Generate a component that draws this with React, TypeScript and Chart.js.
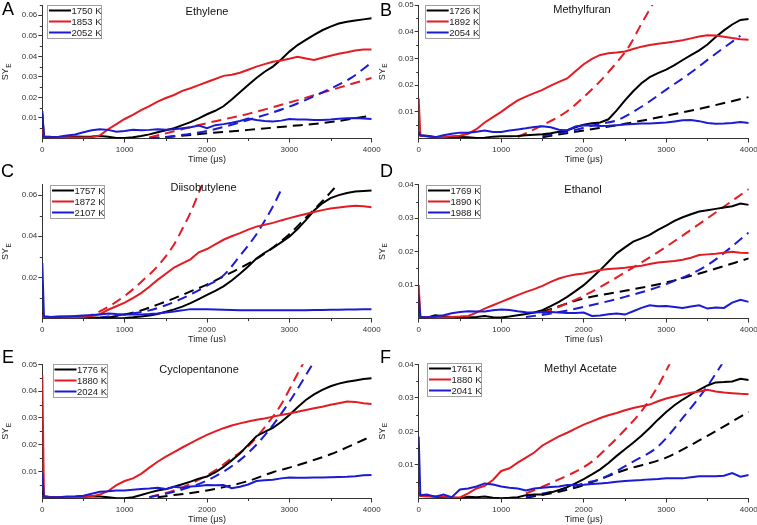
import React, { useEffect, useRef } from "react";
import { Chart, registerables } from "chart.js";

Chart.register(...registerables);

// ---------- shared axes ----------
const TIME = [0, 20,
  100, 200, 300, 400, 500, 600, 700, 800, 900, 1000,
  1100, 1200, 1300, 1400, 1500, 1600, 1700, 1800, 1900, 2000,
  2100, 2200, 2300, 2400, 2500, 2600, 2700, 2800, 2900, 3000,
  3100, 3200, 3300, 3400, 3500, 3600, 3700, 3800, 3900, 4000];
const X_TICKS = [0, 1000, 2000, 3000, 4000];
const X_MINOR = [500, 1500, 2500, 3500];
const Y_TICKS_06 = [0.01, 0.02, 0.03, 0.04, 0.05, 0.06];
const Y_MINOR_06 = [0.005, 0.015, 0.025, 0.035, 0.045, 0.055, 0.065];
const Y_TICKS_05 = [0.01, 0.02, 0.03, 0.04, 0.05];
const Y_MINOR_05 = [0.005, 0.015, 0.025, 0.035, 0.045];
const Y_TICKS_04 = [0.01, 0.02, 0.03, 0.04];
const Y_MINOR_04 = [0.005, 0.015, 0.025, 0.035];
const Y_TICKS_C = [0.02, 0.04, 0.06];
const Y_MINOR_C = [0.01, 0.03, 0.05];

// ---------- A: Ethylene ----------
const ETH_1750 = [0.012, 0.001,
  0.0008, 0.0007, 0.0008, 0.001, 0.0009, 0.001, 0.0012, 0.0008, 0.0003, 0.0002,
  0.0006, 0.0012, 0.002, 0.003, 0.004, 0.005, 0.0065, 0.008, 0.0098, 0.0118,
  0.0135, 0.0157, 0.019, 0.0225, 0.026, 0.0295, 0.0325, 0.035, 0.0385, 0.0423,
  0.0455, 0.048, 0.0505, 0.0527, 0.0545, 0.056, 0.0568, 0.0575, 0.058, 0.0585];
const ETH_1853 = [0.005, 0.001,
  0.0005, 0.0004, 0.0006, 0.0005, 0.0005, 0.0006, 0.0015, 0.0045, 0.007, 0.0095,
  0.0115, 0.0138, 0.0158, 0.018, 0.0197, 0.0212, 0.0232, 0.0245, 0.026, 0.0275,
  0.029, 0.0305, 0.031, 0.032, 0.0335, 0.035, 0.0362, 0.0374, 0.038, 0.0388,
  0.0398, 0.039, 0.0382, 0.0393, 0.0403, 0.0413, 0.042, 0.0428, 0.0433, 0.0433];
const ETH_2052 = [0.0135, 0.0008,
  0.0006, 0.0008, 0.0015, 0.002, 0.003, 0.004, 0.0045, 0.0042, 0.0033, 0.0037,
  0.0043, 0.004, 0.0042, 0.0045, 0.0043, 0.0045, 0.005, 0.0055, 0.0063, 0.005,
  0.0065, 0.007, 0.0077, 0.0085, 0.0097, 0.009, 0.0085, 0.0083, 0.0087, 0.0095,
  0.0093, 0.0092, 0.009, 0.009, 0.0092, 0.0096, 0.0098, 0.01, 0.0097, 0.0095];
const ETH_M1750_T = [1300, 1600, 2000, 2500, 3000, 3500, 4000];
const ETH_M1750 = [0, 0.001, 0.0025, 0.0042, 0.006, 0.008, 0.0112];
const ETH_M1853_T = [1300, 1600, 2000, 2500, 3000, 3500, 4000];
const ETH_M1853 = [0.0005, 0.0035, 0.0075, 0.012, 0.0175, 0.0235, 0.0295];
const ETH_M2052_T = [1300, 1600, 2000, 2500, 3000, 3500, 3750, 4000];
const ETH_M2052 = [0, 0.0012, 0.0037, 0.009, 0.0155, 0.0243, 0.0295, 0.037];

// ---------- B: Methylfuran ----------
const MF_1726 = [0.002, 0.0012,
  0.001, 0.0006, 0.0004, 0.0005, 0.0006, 0.0005, 0.0002, 0.0003, 0.0007, 0.0008,
  0.0008, 0.0009, 0.0012, 0.0014, 0.0016, 0.002, 0.0025, 0.0031, 0.0042, 0.0052,
  0.0057, 0.006, 0.0072, 0.0105, 0.0143, 0.0177, 0.0207, 0.023, 0.0245, 0.0258,
  0.0275, 0.0294, 0.0312, 0.033, 0.0352, 0.038, 0.0405, 0.0427, 0.0444, 0.0448];
const MF_1892 = [0.015, 0.001,
  0.0008, 0.0004, 0.0005, 0.0008, 0.001, 0.0018, 0.0035, 0.006, 0.008, 0.01,
  0.0122, 0.0143, 0.0157, 0.017, 0.0182, 0.0198, 0.0212, 0.0225, 0.0252, 0.0278,
  0.0298, 0.0313, 0.0319, 0.0322, 0.0326, 0.0335, 0.0344, 0.035, 0.0355, 0.0359,
  0.0363, 0.0368, 0.0375, 0.0382, 0.0387, 0.0386, 0.0381, 0.0376, 0.0372, 0.037];
const MF_2054 = [0.0025, 0.0012,
  0.0008, 0.0005, 0.0012, 0.0018, 0.0022, 0.0022, 0.0025, 0.003, 0.0024, 0.0024,
  0.003, 0.0034, 0.0038, 0.0043, 0.0046, 0.0042, 0.0033, 0.003, 0.0045, 0.005,
  0.0049, 0.0047, 0.0048, 0.005, 0.0052, 0.0054, 0.0056, 0.0056, 0.0058, 0.006,
  0.0064, 0.0068, 0.0069, 0.0065, 0.0058, 0.0055, 0.0056, 0.0058, 0.0062, 0.0058];
const MF_M1726_T = [1500, 2000, 2500, 3000, 3500, 4000];
const MF_M1726 = [0.0005, 0.003, 0.0055, 0.0085, 0.0118, 0.0155];
const MF_M1892_T = [1200, 1500, 1800, 2000, 2200, 2400, 2550, 2700, 2850];
const MF_M1892 = [0.0005, 0.005, 0.0102, 0.0155, 0.0215, 0.0285, 0.0345, 0.043, 0.051];
const MF_M2054_T = [1500, 1800, 2000, 2200, 2400, 2700, 3000, 3300, 3550, 3900];
const MF_M2054 = [0.001, 0.0025, 0.004, 0.0055, 0.0068, 0.0119, 0.0183, 0.0247, 0.0306, 0.0385];

// ---------- C: Diisobutylene ----------
const DIB_1757 = [0.003, 0.001,
  0.0008, 0.001, 0.001, 0.0008, 0.0006, 0.0005, 0.0004, 0.0003, 0.0002, 0.0003,
  0.0006, 0.001, 0.0015, 0.0022, 0.0033, 0.0045, 0.0058, 0.0075, 0.0095, 0.0115,
  0.0135, 0.0157, 0.0185, 0.0218, 0.0253, 0.0292, 0.032, 0.0343, 0.037, 0.0398,
  0.0435, 0.0478, 0.0525, 0.056, 0.0585, 0.06, 0.061, 0.0617, 0.062, 0.0622];
const DIB_1872 = [0.002, 0.0008,
  0.0006, 0.0006, 0.0005, 0.0006, 0.0008, 0.0012, 0.0022, 0.0043, 0.006, 0.0078,
  0.01, 0.0124, 0.0155, 0.0188, 0.0218, 0.0248, 0.0268, 0.0288, 0.0322, 0.0338,
  0.036, 0.0383, 0.04, 0.0415, 0.0432, 0.0447, 0.0456, 0.0465, 0.0477, 0.0488,
  0.0498, 0.0508, 0.0518, 0.0527, 0.0535, 0.054, 0.0545, 0.0548, 0.0546, 0.0541];
const DIB_2107 = [0.027, 0.001,
  0.0008, 0.0008, 0.001, 0.0013, 0.0015, 0.0017, 0.002, 0.0025, 0.0022, 0.002,
  0.002, 0.002, 0.0022, 0.0025, 0.003, 0.0035, 0.004, 0.0046, 0.0046, 0.0045,
  0.0044, 0.0043, 0.0042, 0.0041, 0.004, 0.004, 0.004, 0.004, 0.004, 0.004,
  0.0041, 0.0041, 0.0042, 0.0042, 0.0043, 0.0043, 0.0044, 0.0044, 0.0045, 0.0045];
const DIB_M1757_T = [800, 1000, 1200, 1400, 1600, 1800, 2000, 2200, 2400, 2600, 2800, 3000, 3200, 3400, 3550];
const DIB_M1757 = [0.0005, 0.002, 0.004, 0.0068, 0.0098, 0.0132, 0.0165, 0.0205, 0.0245, 0.029, 0.0345, 0.041, 0.049, 0.057, 0.0635];
const DIB_M1872_T = [500, 700, 1000, 1200, 1400, 1600, 1700, 1800, 1950];
const DIB_M1872 = [0.0005, 0.0035, 0.011, 0.0178, 0.0255, 0.036, 0.0435, 0.0515, 0.066];
const DIB_M2107_T = [700, 1000, 1300, 1500, 1700, 2000, 2200, 2400, 2600, 2800, 2900];
const DIB_M2107 = [0.0005, 0.002, 0.004, 0.0065, 0.0098, 0.016, 0.021, 0.0305, 0.041, 0.0545, 0.0625];

// ---------- D: Ethanol ----------
const ETOH_1769 = [0.003, 0.0005,
  0.0003, 0.001, 0.0007, 0.0005, 0.0004, 0.0003, 0.0005, 0.0008, 0.0004, 0.0003,
  0.0006, 0.001, 0.0014, 0.0018, 0.0025, 0.0037, 0.005, 0.0065, 0.0082, 0.01,
  0.0122, 0.0145, 0.017, 0.0195, 0.0213, 0.023, 0.024, 0.025, 0.0265, 0.0278,
  0.0292, 0.0303, 0.0312, 0.032, 0.0324, 0.0328, 0.0332, 0.0336, 0.0344, 0.034];
const ETOH_1890 = [0.01, 0.0005,
  0.0003, 0.0004, 0.0003, 0.0005, 0.0006, 0.0008, 0.0018, 0.003, 0.004, 0.005,
  0.006, 0.007, 0.008, 0.0088, 0.0098, 0.011, 0.012, 0.0127, 0.0132, 0.0135,
  0.014, 0.0145, 0.0148, 0.015, 0.0152, 0.0155, 0.0158, 0.0163, 0.0168, 0.017,
  0.0172, 0.0176, 0.0182, 0.019, 0.0192, 0.0194, 0.0197, 0.02, 0.0197, 0.0196];
const ETOH_1988 = [0.007, 0.0005,
  0.0004, 0.0006, 0.001, 0.0016, 0.002, 0.0022, 0.0021, 0.0021, 0.0025, 0.0027,
  0.0026, 0.0022, 0.0019, 0.0018, 0.0019, 0.002, 0.0018, 0.0017, 0.0017, 0.0018,
  0.0008, 0.0009, 0.0013, 0.0015, 0.0012, 0.0022, 0.0032, 0.004, 0.0037, 0.0038,
  0.0035, 0.0032, 0.0036, 0.004, 0.003, 0.0033, 0.0032, 0.0048, 0.0056, 0.005];
const ETOH_M1769_T = [1500, 2000, 2500, 3000, 3500, 4000];
const ETOH_M1769 = [0.002, 0.006, 0.0083, 0.0108, 0.0142, 0.018];
const ETOH_M1890_T = [1500, 2000, 2500, 3000, 3500, 4000];
const ETOH_M1890 = [0.0015, 0.0068, 0.0138, 0.0215, 0.03, 0.0387];
const ETOH_M1988_T = [1300, 1600, 2000, 2500, 3000, 3500, 4000];
const ETOH_M1988 = [0.0005, 0.0015, 0.0035, 0.0065, 0.0103, 0.016, 0.0257];

// ---------- E: Cyclopentanone ----------
const CP_1776 = [0.003, 0.0008,
  0.0005, 0.0005, 0.0004, 0.0004, 0.0006, 0.0008, 0.0007, 0.0005, 0.0001, 0.0001,
  0.0005, 0.0013, 0.0022, 0.003, 0.0035, 0.0044, 0.0053, 0.0063, 0.0074, 0.0082,
  0.0097, 0.0118, 0.0142, 0.0168, 0.02, 0.0232, 0.0248, 0.0263, 0.0285, 0.0311,
  0.034, 0.0367, 0.0388, 0.0405, 0.0418, 0.0428, 0.0435, 0.044, 0.0445, 0.0448];
const CP_1880 = [0.046, 0.0008,
  0.0006, 0.0005, 0.0005, 0.0005, 0.0006, 0.0008, 0.0015, 0.0028, 0.005, 0.0065,
  0.0075, 0.0092, 0.0115, 0.0137, 0.0156, 0.0173, 0.019, 0.0206, 0.0222, 0.0237,
  0.025, 0.0262, 0.0272, 0.028, 0.0287, 0.0293, 0.0298, 0.0305, 0.0311, 0.0317,
  0.0323, 0.033, 0.0336, 0.0342, 0.0349, 0.0355, 0.0361, 0.036, 0.0355, 0.0352];
const CP_2024 = [0.0095, 0.0006,
  0.0005, 0.0005, 0.0007, 0.0008, 0.001, 0.0018, 0.0025, 0.0027, 0.003, 0.003,
  0.0033, 0.0035, 0.0037, 0.004, 0.0035, 0.0044, 0.004, 0.0045, 0.0047, 0.005,
  0.0049, 0.005, 0.0038, 0.0044, 0.0052, 0.0065, 0.0068, 0.007, 0.0075, 0.0078,
  0.0077, 0.0077, 0.0078, 0.0078, 0.0079, 0.008, 0.0081, 0.0083, 0.0087, 0.0088];
const CP_M1776_T = [1400, 2000, 2500, 2800, 3000, 3500, 4000];
const CP_M1776 = [0.0005, 0.003, 0.0065, 0.0098, 0.0115, 0.0165, 0.0232];
const CP_M1880_T = [1300, 1600, 1900, 2100, 2300, 2500, 2700, 2900, 3100, 3200];
const CP_M1880 = [0.0005, 0.003, 0.007, 0.0105, 0.015, 0.0195, 0.0265, 0.035, 0.0465, 0.052];
const CP_M2024_T = [1300, 1600, 2000, 2400, 2700, 3000, 3300];
const CP_M2024 = [0.0005, 0.0025, 0.0067, 0.0143, 0.0235, 0.036, 0.051];

// ---------- F: Methyl Acetate ----------
const MA_1761 = [0.002, 0.0008,
  0.0008, 0.0005, 0.0003, 0.0002, 0.0001, 0.0005, 0.0004, 0.0006, 0.0002, 0.0001,
  0.0002, 0.0004, 0.001, 0.0012, 0.0012, 0.0018, 0.0025, 0.0034, 0.0045, 0.0058,
  0.0072, 0.0087, 0.0106, 0.0127, 0.0147, 0.0166, 0.0187, 0.021, 0.0235, 0.0258,
  0.0278, 0.0295, 0.031, 0.0324, 0.0337, 0.0346, 0.0347, 0.0349, 0.0357, 0.0353];
const MA_1880 = [0.003, 0.0008,
  0.0006, 0.0006, 0.0005, 0.0004, 0.0003, 0.0015, 0.003, 0.0038, 0.0055, 0.0082,
  0.009, 0.0107, 0.0122, 0.0137, 0.0158, 0.0172, 0.0185, 0.0196, 0.0208, 0.022,
  0.023, 0.024, 0.0248, 0.0255, 0.0263, 0.027, 0.0275, 0.028, 0.029, 0.0298,
  0.0304, 0.031, 0.0315, 0.0319, 0.0324, 0.0319, 0.0316, 0.0314, 0.0312, 0.0311];
const MA_2041 = [0.0185, 0.001,
  0.0012, 0.0005, 0.0012, 0.0004, 0.0027, 0.003, 0.0036, 0.0045, 0.0042, 0.0036,
  0.0032, 0.003, 0.0024, 0.003, 0.0032, 0.0034, 0.0036, 0.004, 0.004, 0.0041,
  0.0043, 0.0045, 0.0047, 0.005, 0.0052, 0.0054, 0.0055, 0.0057, 0.0058, 0.006,
  0.006, 0.006, 0.0063, 0.0066, 0.0066, 0.0066, 0.0068, 0.0076, 0.0065, 0.007];
const MA_M1761_T = [1300, 1700, 2000, 2500, 3000, 3500, 4000];
const MA_M1761 = [0.0003, 0.002, 0.004, 0.0085, 0.0122, 0.0187, 0.0258];
const MA_M1880_T = [1300, 1500, 1700, 1900, 2100, 2300, 2500, 2700, 2900, 3050];
const MA_M1880 = [0.0015, 0.0035, 0.0057, 0.008, 0.011, 0.0155, 0.0205, 0.026, 0.0335, 0.0405];
const MA_M2041_T = [1300, 1700, 2000, 2200, 2600, 2900, 3200, 3500, 3700];
const MA_M2041 = [0.0005, 0.0025, 0.0045, 0.0058, 0.011, 0.0155, 0.024, 0.0335, 0.041];

// ---------- styles / layout ----------
const FONT = "'Liberation Sans', Arial, Helvetica, sans-serif";
const COLORS = ["#000000", "#e31b23", "#1b1bd4"];
const AXIS_COLOR = "#333333";
const TICK_COLOR = "#333333";

const COLS = [
  { x: 0, w: 386, plotLeft: 42.3, plotRight: 371.7 },
  { x: 378, w: 379, plotLeft: 40.7, plotRight: 370.7 },
];
const ROWS = [
  { y: 0, h: 166, plotTop: 5, plotBottom: 138.5 },
  { y: 160, h: 182, plotTop: 24.8, plotBottom: 158.6 },
  { y: 340, h: 185, plotTop: 24.3, plotBottom: 158.5 },
];

type PanelCfg = {
  letter: string; title: string; temps: string[];
  solid: number[][]; dashT: number[][]; dashV: number[][];
  yMax: number; yTicks: number[]; yMinor: number[];
  col: number; row: number;
  letterPos: [number, number]; titlePos: [number, number]; legendPos: [number, number];
};

const PANELS: PanelCfg[] = [
  { letter: "A", title: "Ethylene", temps: ["1750 K", "1853 K", "2052 K"],
    solid: [ETH_1750, ETH_1853, ETH_2052], dashT: [ETH_M1750_T, ETH_M1853_T, ETH_M2052_T], dashV: [ETH_M1750, ETH_M1853, ETH_M2052],
    yMax: 0.065, yTicks: Y_TICKS_06, yMinor: Y_MINOR_06, col: 0, row: 0,
    letterPos: [2, 15], titlePos: [207, 14.6], legendPos: [47, 5] },
  { letter: "B", title: "Methylfuran", temps: ["1726 K", "1892 K", "2054 K"],
    solid: [MF_1726, MF_1892, MF_2054], dashT: [MF_M1726_T, MF_M1892_T, MF_M2054_T], dashV: [MF_M1726, MF_M1892, MF_M2054],
    yMax: 0.05, yTicks: Y_TICKS_05, yMinor: Y_MINOR_05, col: 1, row: 0,
    letterPos: [2, 16], titlePos: [204, 13.2], legendPos: [46.7, 5] },
  { letter: "C", title: "Diisobutylene", temps: ["1757 K", "1872 K", "2107 K"],
    solid: [DIB_1757, DIB_1872, DIB_2107], dashT: [DIB_M1757_T, DIB_M1872_T, DIB_M2107_T], dashV: [DIB_M1757, DIB_M1872, DIB_M2107],
    yMax: 0.065, yTicks: Y_TICKS_C, yMinor: Y_MINOR_C, col: 0, row: 1,
    letterPos: [1, 17], titlePos: [203.5, 31.3], legendPos: [50, 25] },
  { letter: "D", title: "Ethanol", temps: ["1769 K", "1890 K", "1988 K"],
    solid: [ETOH_1769, ETOH_1890, ETOH_1988], dashT: [ETOH_M1769_T, ETOH_M1890_T, ETOH_M1988_T], dashV: [ETOH_M1769, ETOH_M1890, ETOH_M1988],
    yMax: 0.04, yTicks: Y_TICKS_04, yMinor: Y_MINOR_04, col: 1, row: 1,
    letterPos: [2, 17], titlePos: [205, 33], legendPos: [48, 25] },
  { letter: "E", title: "Cyclopentanone", temps: ["1776 K", "1880 K", "2024 K"],
    solid: [CP_1776, CP_1880, CP_2024], dashT: [CP_M1776_T, CP_M1880_T, CP_M2024_T], dashV: [CP_M1776, CP_M1880, CP_M2024],
    yMax: 0.05, yTicks: Y_TICKS_05, yMinor: Y_MINOR_05, col: 0, row: 2,
    letterPos: [2, 23], titlePos: [199, 33], legendPos: [52.5, 24] },
  { letter: "F", title: "Methyl Acetate", temps: ["1761 K", "1880 K", "2041 K"],
    solid: [MA_1761, MA_1880, MA_2041], dashT: [MA_M1761_T, MA_M1880_T, MA_M2041_T], dashV: [MA_M1761, MA_M1880, MA_M2041],
    yMax: 0.04, yTicks: Y_TICKS_04, yMinor: Y_MINOR_04, col: 1, row: 2,
    letterPos: [2, 23], titlePos: [202.5, 32.2], legendPos: [49, 23] },
];

function makeOverlay(p: PanelCfg) {
  return {
    id: "overlay",
    afterDraw(chart: any) {
      const { ctx, chartArea: a } = chart;
      const xs = chart.scales.x;
      const ys = chart.scales.y;
      ctx.save();
      // minor ticks
      ctx.strokeStyle = AXIS_COLOR;
      ctx.lineWidth = 1;
      ctx.beginPath();
      X_MINOR.forEach((v) => {
        const px = Math.round(xs.getPixelForValue(v)) + 0.5;
        ctx.moveTo(px, a.bottom);
        ctx.lineTo(px, a.bottom + 2.5);
      });
      p.yMinor.forEach((v) => {
        const py = Math.round(ys.getPixelForValue(v)) + 0.5;
        ctx.moveTo(a.left - 2.5, py);
        ctx.lineTo(a.left, py);
      });
      ctx.stroke();

      // legend
      const [bx, by] = p.legendPos;
      const bw = 54, bh = 33;
      ctx.fillStyle = "#ffffff";
      ctx.fillRect(bx, by, bw, bh);
      ctx.strokeStyle = "#a0a0a0";
      ctx.lineWidth = 1;
      ctx.strokeRect(Math.round(bx) + 0.5, Math.round(by) + 0.5, bw, bh);
      ctx.font = `9.5px ${FONT}`;
      ctx.textAlign = "left";
      ctx.textBaseline = "middle";
      p.temps.forEach((t, i) => {
        const ly = by + 5.5 + 11 * i;
        ctx.strokeStyle = COLORS[i];
        ctx.lineWidth = 2;
        ctx.beginPath();
        ctx.moveTo(bx + 2, ly);
        ctx.lineTo(bx + 24, ly);
        ctx.stroke();
        ctx.fillStyle = "#222";
        ctx.fillText(t, bx + 24.5, ly + 0.5);
      });

      // panel title
      ctx.font = `11px ${FONT}`;
      ctx.fillStyle = "#111";
      ctx.textAlign = "center";
      ctx.textBaseline = "alphabetic";
      ctx.fillText(p.title, p.titlePos[0], p.titlePos[1]);

      // panel letter
      ctx.font = `18px ${FONT}`;
      ctx.fillStyle = "#000";
      ctx.textAlign = "left";
      ctx.fillText(p.letter, p.letterPos[0], p.letterPos[1]);

      // x axis title
      ctx.font = `9px ${FONT}`;
      ctx.fillStyle = "#222";
      ctx.textAlign = "center";
      ctx.textBaseline = "middle";
      ctx.fillText("Time (μs)", (a.left + a.right) / 2, a.bottom + 21);

      // y axis title SY_E
      ctx.translate(a.left - 34, (a.top + a.bottom) / 2);
      ctx.rotate(-Math.PI / 2);
      ctx.textAlign = "left";
      ctx.textBaseline = "alphabetic";
      ctx.font = `9px ${FONT}`;
      const w1 = ctx.measureText("SY").width;
      ctx.font = `6.5px ${FONT}`;
      const w2 = ctx.measureText("E").width;
      const start = -(w1 + w2 + 0.5) / 2;
      ctx.font = `9px ${FONT}`;
      ctx.fillText("SY", start, 0);
      ctx.font = `6.5px ${FONT}`;
      ctx.fillText("E", start + w1 + 0.5, 2.5);
      ctx.restore();
    },
  };
}

function PanelChart({ p }: { p: PanelCfg }) {
  const ref = useRef<HTMLCanvasElement | null>(null);
  const col = COLS[p.col];
  const row = ROWS[p.row];

  useEffect(() => {
    const canvas = ref.current;
    if (!canvas) return;
    const order = [2, 1, 0];
    const datasets: any[] = [];
    order.forEach((i) => {
      datasets.push({
        label: p.temps[i],
        data: TIME.map((t, k) => ({ x: t, y: p.solid[i][k] })),
        borderColor: COLORS[i],
        backgroundColor: COLORS[i],
        borderWidth: 2,
        pointRadius: 0,
        fill: false,
        tension: 0,
      });
    });
    order.forEach((i) => {
      datasets.push({
        label: p.temps[i] + " model",
        data: p.dashT[i].map((t, k) => ({ x: t, y: p.dashV[i][k] })),
        borderColor: COLORS[i],
        backgroundColor: COLORS[i],
        borderWidth: 2,
        borderDash: [10, 6],
        pointRadius: 0,
        fill: false,
        cubicInterpolationMode: "monotone",
      });
    });

    const tickFont = { family: FONT, size: 8 };
    const chart = new Chart(canvas, {
      type: "line",
      data: { datasets },
      options: {
        animation: false,
        responsive: false,
        devicePixelRatio: 1,
        events: [],
        layout: {
          autoPadding: false,
          padding: { left: 0, top: row.plotTop, right: col.w - col.plotRight, bottom: 0 },
        },
        plugins: {
          legend: { display: false },
          tooltip: { enabled: false },
          title: { display: false },
        },
        scales: {
          x: {
            type: "linear",
            min: 0,
            max: 4000,
            bounds: "data",
            afterBuildTicks: (s: any) => {
              s.ticks = X_TICKS.map((v) => ({ value: v }));
            },
            afterFit: (s: any) => {
              s.height = row.h - row.plotBottom;
              s.paddingLeft = 0;
              s.paddingRight = 0;
            },
            ticks: {
              autoSkip: false,
              maxRotation: 0,
              minRotation: 0,
              padding: 2.5,
              font: tickFont,
              color: TICK_COLOR,
              callback: (v: any) => String(v),
            },
            grid: { display: true, drawOnChartArea: false, drawTicks: true, tickLength: 4, color: AXIS_COLOR, lineWidth: 1 },
            border: { display: true, color: AXIS_COLOR, width: 1 },
            title: { display: false },
          },
          y: {
            type: "linear",
            min: 0,
            max: p.yMax,
            bounds: "data",
            afterBuildTicks: (s: any) => {
              s.ticks = p.yTicks.map((v) => ({ value: v }));
            },
            afterFit: (s: any) => {
              s.width = col.plotLeft;
              s.paddingTop = 0;
              s.paddingBottom = 0;
            },
            ticks: {
              autoSkip: false,
              padding: 1,
              font: tickFont,
              color: TICK_COLOR,
              callback: (v: any) => Number(v).toFixed(2),
            },
            grid: { display: true, drawOnChartArea: false, drawTicks: true, tickLength: 4, color: AXIS_COLOR, lineWidth: 1 },
            border: { display: true, color: AXIS_COLOR, width: 1 },
            title: { display: false },
          },
        },
      } as any,
      plugins: [makeOverlay(p)],
    });
    return () => chart.destroy();
  }, []);

  return (
    <canvas
      ref={ref}
      width={col.w}
      height={row.h}
      style={{ position: "absolute", left: col.x, top: row.y, width: col.w, height: row.h }}
    />
  );
}

export default function App() {
  return (
    <div style={{ position: "absolute", left: 0, top: 0, width: 757, height: 525, background: "#ffffff", overflow: "hidden" }}>
      {PANELS.map((p) => (
        <PanelChart key={p.letter} p={p} />
      ))}
    </div>
  );
}
